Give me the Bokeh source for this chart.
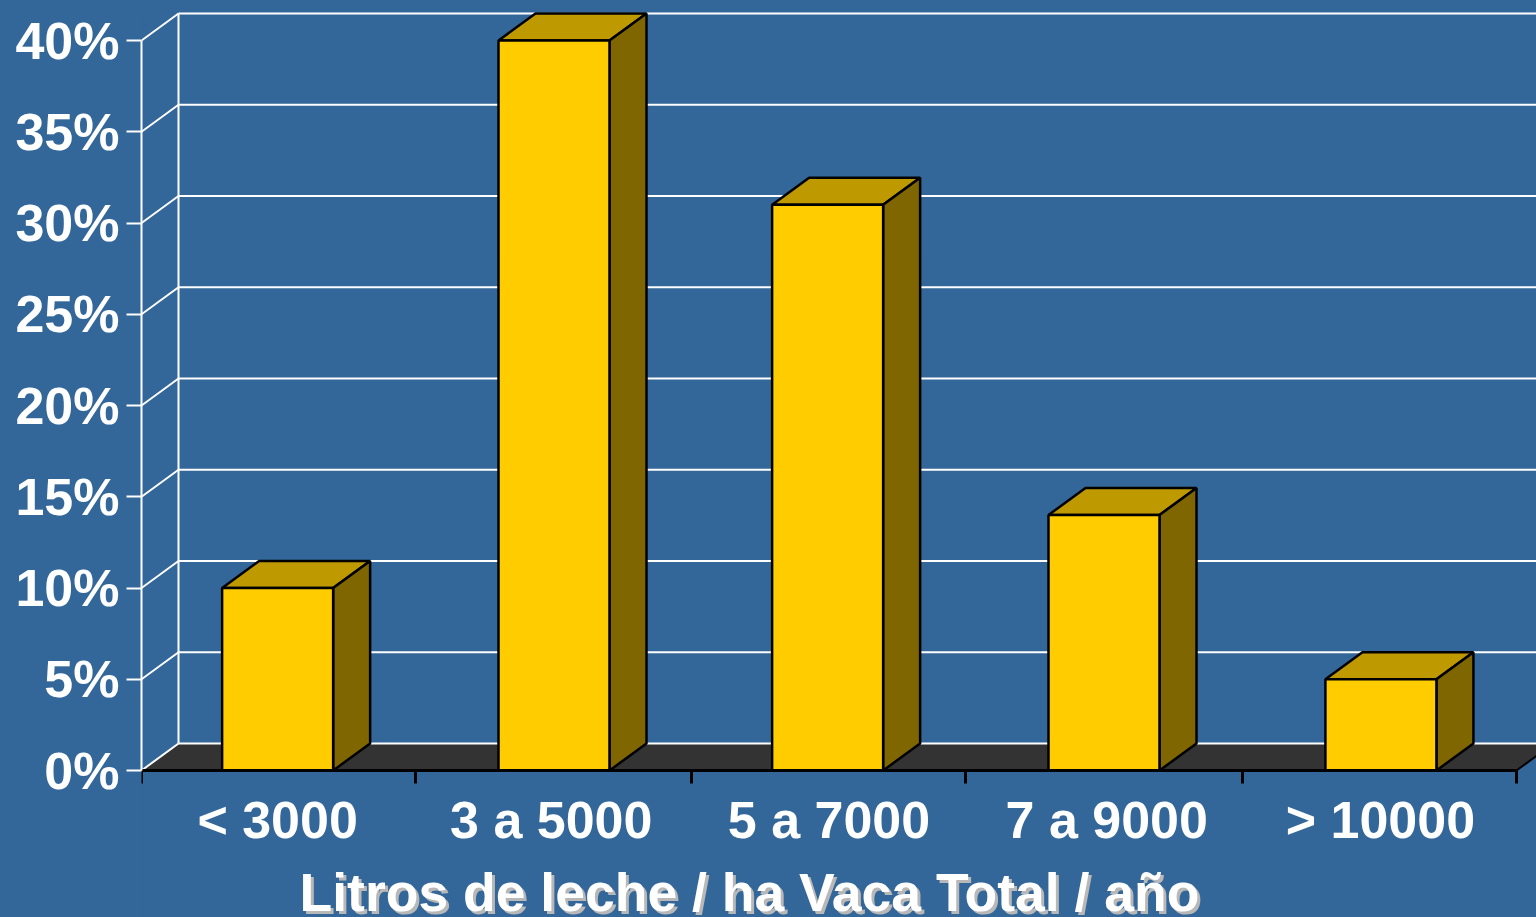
from bokeh.plotting import figure
from bokeh.models import LinearAxis, FixedTicker, Range1d
from bokeh.core.properties import value
from bokeh.embed import file_html
from bokeh.resources import INLINE

categories = ["< 3000", "3 a 5000", "5 a 7000", "7 a 9000", "> 10000"]
values = [10, 40, 31, 14, 5]
bar_centers = [0.495, 1.5, 2.495, 3.5, 4.507]
label_centers = [0.495, 1.49, 2.5, 3.51, 4.505]
x_tick_positions = [0, 0.996, 2, 2.996, 4.004, 5]
y_ticks = [0, 5, 10, 15, 20, 25, 30, 35, 40]
y_tick_labels = ["0%", "5%", "10%", "15%", "20%", "25%", "30%", "35%", "40%"]
x_axis_title = "Litros de leche / ha Vaca Total / año"

BG = "#336699"
FRONT, TOP, SIDE, FLOOR = "#FFCC00", "#BF9900", "#7F6600", "#333333"
FONT = "Liberation Sans"
X_PX, Y_PX = 275.0, 18.25          # pixels per category / per percent
DX, DY = 37 / X_PX, 27 / Y_PX      # depth of the 3D box
BAR_W = 111 / X_PX
W, H = 1528, 909
LEFT = 133
ZERO_FROM_BOTTOM = 147             # pixels below the zero line

p = figure(width=W, height=H, output_backend="svg", toolbar_location=None,
           x_range=Range1d(0, (W - LEFT) / X_PX),
           y_range=Range1d(-ZERO_FROM_BOTTOM / Y_PX, (H - ZERO_FROM_BOTTOM) / Y_PX),
           x_axis_type=None, y_axis_type=None,
           min_border_left=LEFT, min_border_bottom=0,
           min_border_top=0, min_border_right=0,
           background_fill_color=BG, border_fill_color=BG, outline_line_color=None)
p.grid.visible = False

# floor
p.patch([0, DX, 5 + DX, 5], [0, DY, DY, 0], fill_color=FLOOR, line_color=None)
# walls
end = 6.0
p.segment([DX] * len(y_ticks), [t + DY for t in y_ticks], [end] * len(y_ticks),
          [t + DY for t in y_ticks], line_color="white", line_width=2)
p.segment([0] * len(y_ticks), y_ticks, [DX] * len(y_ticks), [t + DY for t in y_ticks],
          line_color="white", line_width=2)
p.segment([DX], [DY], [DX], [y_ticks[-1] + DY], line_color="white", line_width=2)
# right end of the floor
p.segment([5], [0], [5 + DX], [DY], line_color="black", line_width=2)

# bars
for c, v in zip(bar_centers, values):
    x0, x1 = c - BAR_W / 2, c + BAR_W / 2
    p.patch([x0, x0 + DX, x1 + DX, x1], [v, v + DY, v + DY, v],
            fill_color=TOP, line_color="black", line_width=2.5)
    p.patch([x1, x1 + DX, x1 + DX, x1], [0, DY, v + DY, v],
            fill_color=SIDE, line_color="black", line_width=2.5)
    p.quad(left=[x0], right=[x1], bottom=[0], top=[v],
           fill_color=FRONT, line_color="black", line_width=2.5)

# y axis
yaxis = LinearAxis(ticker=FixedTicker(ticks=y_ticks), bounds=(0, 40),
                   major_label_overrides=dict(zip(y_ticks, y_tick_labels)),
                   axis_line_color="white", axis_line_width=2,
                   major_tick_line_color="white", major_tick_line_width=2,
                   major_tick_out=15, major_tick_in=0, minor_tick_out=0, minor_tick_in=0,
                   major_label_standoff=7, major_label_text_color="white",
                   major_label_text_font=FONT, major_label_text_font_style="bold",
                   major_label_text_font_size="52px")
p.add_layout(yaxis, "left")

# x axis: ticks at the category boundaries, fixed on the zero line
xaxis = LinearAxis(ticker=FixedTicker(ticks=x_tick_positions), bounds=(0, 5), fixed_location=0,
                   axis_line_color="black", axis_line_width=3,
                   major_tick_line_color="black", major_tick_line_width=3,
                   major_tick_out=13, major_tick_in=0, minor_tick_out=0, minor_tick_in=0,
                   major_label_overrides={t: "" for t in x_tick_positions},
                   major_label_text_font_size="1px", major_label_standoff=0)
p.add_layout(xaxis, "below")

# category labels
p.text(label_centers, [-(819 - 770) / Y_PX] * len(categories), text=categories,
       text_align="center", text_baseline="alphabetic", text_color="white",
       text_font=value(FONT), text_font_style="bold", text_font_size="52px")

# title with its shadow
tx, ty = (750 - 142) / X_PX, -(892 - 770) / Y_PX
p.text([tx], [ty], text=[x_axis_title], x_offset=3, y_offset=3,
       text_align="center", text_baseline="alphabetic", text_color="#B8B8B8",
       text_font=value(FONT), text_font_style="bold", text_font_size="53.5px")
p.text([tx], [ty], text=[x_axis_title],
       text_align="center", text_baseline="alphabetic", text_color="white",
       text_font=value(FONT), text_font_style="bold", text_font_size="53.5px")

html = file_html(p, INLINE)
css = "<style>html,body{background:%s}body{margin:8px 0 0 8px;overflow:hidden}</style>" % BG
html = html.replace("</head>", css + "</head>", 1)
open("out.html", "w").write(html)
